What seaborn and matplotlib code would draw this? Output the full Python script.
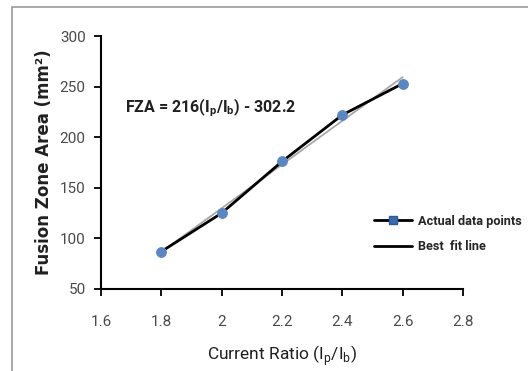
import matplotlib
matplotlib.use("Agg")
import matplotlib.pyplot as plt
import seaborn as sns
import pandas as pd
from matplotlib.lines import Line2D
from matplotlib.patches import Rectangle

# values
current_ratio = [1.8, 2.0, 2.2, 2.4, 2.6]
fza_actual = [87, 125, 176, 222, 253]
fit_x = [1.8, 2.6]
fit_slope = 216
fit_intercept = -302.2
fit_y = [fit_slope * x + fit_intercept for x in fit_x]
x_ticks = [1.6, 1.8, 2.0, 2.2, 2.4, 2.6, 2.8]
x_tick_labels = ["1.6", "1.8", "2", "2.2", "2.4", "2.6", "2.8"]
y_ticks = [50, 100, 150, 200, 250, 300]

sns.set_theme(style="ticks")
plt.rcParams['font.family'] = ['Roboto', 'DejaVu Sans']
plt.rcParams['mathtext.fontset'] = 'custom'
plt.rcParams['mathtext.rm'] = 'Roboto'
plt.rcParams['mathtext.bf'] = 'Roboto:bold'

df = pd.DataFrame({"ratio": current_ratio, "fza": fza_actual})
fit_df = pd.DataFrame({"ratio": fit_x, "fza": fit_y})

fig = plt.figure(figsize=(5.28, 3.71), dpi=100)
fig.patches.append(Rectangle((12 / 528, -0.05), 1.2, 1.05 - 7 / 371,
                             transform=fig.transFigure, fill=False,
                             edgecolor="#9a9a9a", linewidth=1.2))
ax = fig.add_axes([101 / 528, 1 - 289 / 371, 362 / 528, 253 / 371])

sns.lineplot(data=fit_df, x="ratio", y="fza", ax=ax, color="#a8a8a8", linewidth=1.3)
sns.lineplot(data=df, x="ratio", y="fza", ax=ax, color="black", linewidth=2.0,
             marker="o", markersize=7, markerfacecolor="#5b87c0",
             markeredgecolor="#5b87c0")

ax.set_xlim(1.6, 2.8)
ax.set_ylim(50, 300)
ax.set_xticks(x_ticks)
ax.set_xticklabels(x_tick_labels)
ax.set_yticks(y_ticks)
ax.tick_params(axis="both", labelsize=11, labelcolor="#4a4a4a", length=5,
               width=1.3, color="black", direction="out")
ax.tick_params(axis="x", pad=14)
ax.tick_params(axis="y", pad=6)
for side in ["top", "right"]:
    ax.spines[side].set_visible(False)
for side in ["left", "bottom"]:
    ax.spines[side].set_linewidth(1.5)
    ax.spines[side].set_color("black")

ax.set_xlabel(r"Current Ratio (I$_\mathregular{p}$/I$_\mathregular{b}$)",
              fontsize=12.5, color="#202020", labelpad=10)
ax.set_ylabel("Fusion Zone Area (mm²)", fontsize=12, fontweight="bold",
              family="DejaVu Sans", color="#202020", labelpad=5)

ax.text(1.68, 229, r"FZA = 216(I$_\mathbf{p}$/I$_\mathbf{b}$) - 302.2",
        fontsize=11.5, fontweight="bold", color="#202020", va="center", ha="left")

handles = [
    Line2D([], [], color="black", linewidth=2, marker="s", markersize=6,
           markerfacecolor="#3d6aa8", markeredgecolor="#2d5a98"),
    Line2D([], [], color="black", linewidth=2),
]
ax.legend(handles, ["Actual data points", "Best  fit line"], frameon=False,
          loc="center left", bbox_to_anchor=(362 / 528, 1 - 234 / 371),
          bbox_transform=fig.transFigure, handlelength=3.0,
          handletextpad=0.5, labelspacing=1.0, prop={"weight": "bold", "size": 9.2})

fig.savefig("out.png", dpi=100)
